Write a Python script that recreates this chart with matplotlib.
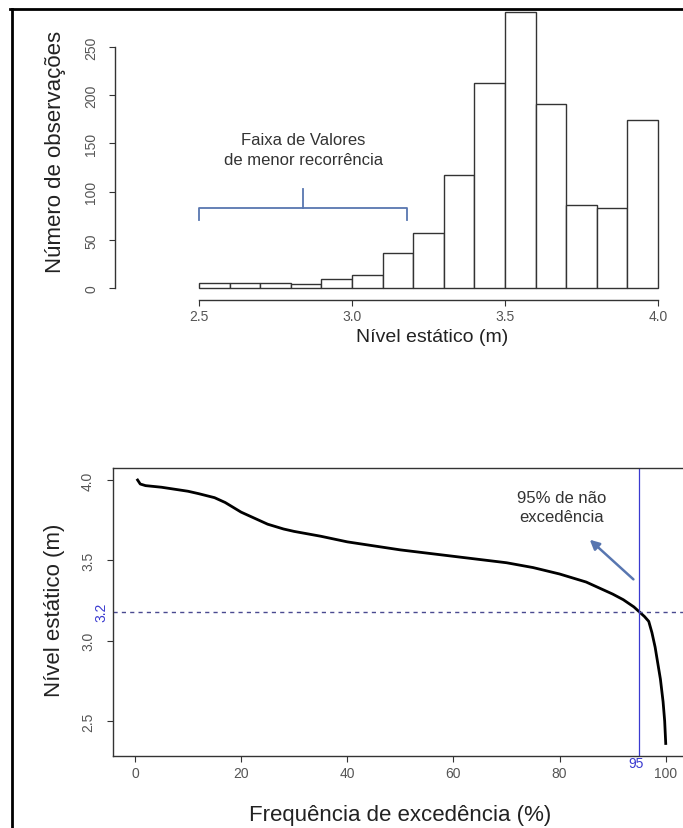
import matplotlib
matplotlib.use("Agg")
import matplotlib.pyplot as plt
from matplotlib.lines import Line2D
import numpy as np

plt.rcParams['font.family'] = ['Liberation Sans', 'DejaVu Sans']

#%% data
# histogram of static level (m), bins of 0.1 m
bin_left = [2.5, 2.6, 2.7, 2.8, 2.9, 3.0, 3.1, 3.2, 3.3, 3.4, 3.5, 3.6, 3.7, 3.8, 3.9]
counts = [5, 5, 5, 4, 9, 13, 36, 57, 117, 213, 286, 191, 86, 83, 174]
bin_width = 0.1
hist_xticks = [2.5, 3.0, 3.5, 4.0]
hist_yticks = [0, 50, 100, 150, 200, 250]

# exceedance curve (frequency %, level m)
freq = [0.5, 1, 2, 5, 8, 10, 12, 15, 17, 20, 22, 25, 28, 30, 35, 40, 45, 50, 55, 60,
        65, 70, 75, 80, 83, 85, 88, 90, 92, 94, 95, 96, 96.8, 97.4, 98, 98.5, 99, 99.5, 99.8, 100]
level = [4.00, 3.975, 3.965, 3.955, 3.94, 3.93, 3.915, 3.89, 3.86, 3.80, 3.77, 3.725, 3.695, 3.68,
         3.65, 3.615, 3.59, 3.565, 3.545, 3.525, 3.505, 3.485, 3.455, 3.415, 3.385, 3.365, 3.32,
         3.29, 3.255, 3.21, 3.18, 3.15, 3.12, 3.05, 2.96, 2.86, 2.76, 2.62, 2.50, 2.36]
curve_xticks = [0, 20, 40, 60, 80, 100]
curve_yticks = [2.5, 3.0, 3.5, 4.0]
q95_freq = 95
q95_level = 3.18

low_range = (2.5, 3.18)   # faixa de menor recorrencia

tick_col = '#555555'
line_col = '#333333'
blue = '#3a3ad0'
steel = '#5876b0'

fig = plt.figure(figsize=(6.83, 8.29), dpi=100)

#%% histogram
ax1 = fig.add_axes([0.1684, 0.6369, 0.8309, 0.3571])
ax1.bar(bin_left, counts, width=bin_width, align='edge', color='white',
        edgecolor=line_col, linewidth=1.0)
ax1.set_xlim(2.2255, 4.08)
ax1.set_ylim(-12.45, 294.6)
for s in ['top', 'right']:
    ax1.spines[s].set_visible(False)
ax1.spines['left'].set_bounds(0, 250)
ax1.spines['bottom'].set_bounds(2.5, 4.0)
for s in ['left', 'bottom']:
    ax1.spines[s].set_color(line_col)
    ax1.spines[s].set_linewidth(1.0)
ax1.set_xticks(hist_xticks)
ax1.set_xticklabels(['%.1f' % v for v in hist_xticks])
ax1.set_yticks(hist_yticks)
ax1.tick_params(axis='both', direction='out', length=4, color=line_col,
                labelsize=10, labelcolor=tick_col)
ax1.tick_params(axis='x', pad=2.5)
ax1.tick_params(axis='y', pad=8, labelrotation=90)
for lab in ax1.get_yticklabels():
    lab.set_va('center')
ax1.set_xlabel('Nível estático (m)', fontsize=14, color='#222222')
ax1.xaxis.set_label_coords(0.5586, -0.095)
ax1.set_ylabel('Número de observações', fontsize=16, color='#222222')
ax1.yaxis.set_label_coords(-0.086, 0.503)

# bracket over the low-recurrence range
bx0, bx1 = low_range
bmid = (bx0 + bx1) / 2
ax1.plot([bx0, bx0, bx1, bx1], [71, 83, 83, 71], color=steel, lw=1.3)
ax1.plot([bmid, bmid], [83, 103], color=steel, lw=1.3)
ax1.text(bmid, 144, 'Faixa de Valores\nde menor recorrência', ha='center', va='center',
         fontsize=12, color='#333333', linespacing=1.4)

#%% exceedance curve
ax2 = fig.add_axes([0.1654, 0.08685, 0.8404, 0.3474])
ax2.plot(freq, level, color='black', lw=2.0)
ax2.set_xlim(-4.14, 104)
ax2.set_ylim(2.282, 4.0747)
for s in ax2.spines.values():
    s.set_color(line_col)
    s.set_linewidth(1.0)
ax2.axvline(q95_freq, color=blue, lw=0.9)
ax2.axhline(q95_level, color='#4a4a90', lw=1.0, ls=(0, (3, 3)))
ax2.set_xticks(curve_xticks)
ax2.set_yticks(curve_yticks)
ax2.set_yticklabels(['%.1f' % v for v in curve_yticks])
ax2.tick_params(axis='both', direction='out', length=4, color=line_col,
                labelsize=10, labelcolor=tick_col)
ax2.tick_params(axis='x', pad=3)
ax2.tick_params(axis='y', pad=9, labelrotation=90)
for lab in ax2.get_yticklabels():
    lab.set_va('center')
ax2.text(-0.008, q95_level, '3.2', transform=ax2.get_yaxis_transform(), rotation=90,
         ha='right', va='center', fontsize=10, color=blue)
ax2.text(94.5, -0.024, '95', transform=ax2.get_xaxis_transform(),
         ha='center', va='center', fontsize=10, color=blue)
ax2.set_xlabel('Frequência de excedência (%)', fontsize=16, color='#222222')
ax2.xaxis.set_label_coords(0.5, -0.165)
ax2.set_ylabel('Nível estático (m)', fontsize=16, color='#222222')
ax2.yaxis.set_label_coords(-0.083, 0.51)

ax2.annotate('', xy=(85.3, 3.64), xytext=(94.3, 3.37),
             arrowprops=dict(arrowstyle='-|>', color=steel, lw=1.8, mutation_scale=14))
ax2.text(80.4, 3.832, '95% de não\nexcedência', ha='center', va='center',
         fontsize=12, color='#333333', linespacing=1.4)

# frame of the original picture (top and left only)
fig.add_artist(Line2D([10 / 683, 1], [1 - 10 / 829, 1 - 10 / 829], color='black', lw=2))
fig.add_artist(Line2D([12 / 683, 12 / 683], [0, 1 - 10 / 829], color='black', lw=2))

fig.savefig('out.png', dpi=100)
